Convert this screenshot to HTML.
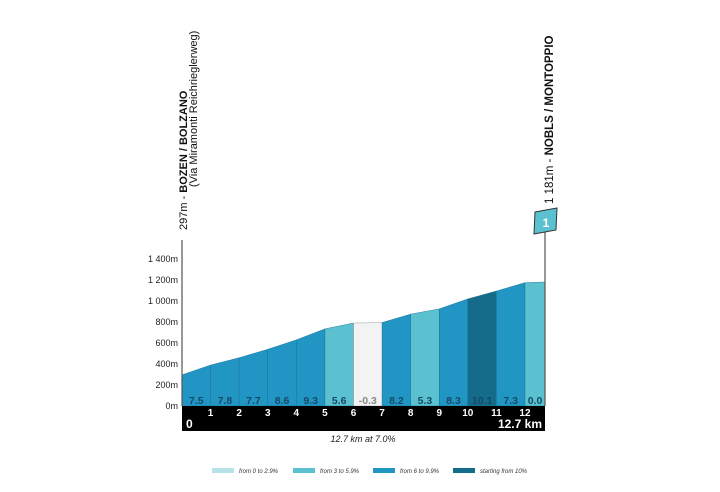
<!DOCTYPE html>
<html><head><meta charset="utf-8"><style>
html,body{margin:0;padding:0;background:#fff;}
svg{display:block;font-family:"Liberation Sans",sans-serif;}
</style></head><body>
<svg id="chart" width="720" height="492" viewBox="0 0 720 492">
<g id="segs"></g>
<g id="axis"></g>
<rect x="182" y="406" width="363" height="25" fill="#000"/>
<g id="kms"></g>
<text x="186" y="428" fill="#fff" font-size="12" font-weight="bold">0</text>
<text x="542" y="428" fill="#fff" font-size="12" font-weight="bold" text-anchor="end">12.7 km</text>
<text x="363" y="442" font-size="9" font-style="italic" fill="#222" text-anchor="middle">12.7 km at 7.0%</text>
<line x1="182" y1="240" x2="182" y2="406" stroke="#555" stroke-width="1.2"/>
<line x1="545" y1="232" x2="545" y2="406" stroke="#555" stroke-width="1.2"/>
<text transform="translate(187,230) rotate(-90)" font-size="11" fill="#111">297m - <tspan font-weight="bold">BOZEN / BOLZANO</tspan></text>
<text transform="translate(197,187) rotate(-90)" font-size="11" fill="#111">(Via Miramonti Reichrieglerweg)</text>
<text transform="translate(553,204) rotate(-90)" font-size="11.5" fill="#111">1 181m - <tspan font-weight="bold">NOBLS / MONTOPPIO</tspan></text>
<path d="M535,212 L557,208 L556,230 L534,234 Z" fill="#5bc0cf" stroke="#333" stroke-width="1"/>
<text x="546" y="227" font-size="12" font-weight="bold" fill="#fff" text-anchor="middle">1</text>
<g font-size="6" font-style="italic" fill="#333">
<rect x="212" y="468" width="22" height="5" fill="#b5e3e8"/>
<text x="239" y="473">from 0 to 2.9%</text>
<rect x="293" y="468" width="22" height="5" fill="#5bc0cf"/>
<text x="320" y="473">from 3 to 5.9%</text>
<rect x="373" y="468" width="22" height="5" fill="#2196c4"/>
<text x="400" y="473">from 6 to 9.9%</text>
<rect x="453" y="468" width="22" height="5" fill="#146b8a"/>
<text x="480" y="473">starting from 10%</text>
</g>
</svg>
<script>
const kmMarks=[0,1,2,3,4,5,6,7,8,9,10,11,12,12.7];
const elevations=[297,390,460,540,630,735,790,795,875,925,1020,1095,1175,1181];
const gradients=["7.5","7.8","7.7","8.6","9.3","5.6","-0.3","8.2","5.3","8.3","10.1","7.3","0.0"];
const yTicks=[0,200,400,600,800,1000,1200,1400];
const X0=182,X1=545,KM=12.7,Y0=406,PXM=21/200;
const xs=k=>X0+(X1-X0)*k/KM, ys=e=>Y0-e*PXM;
function col(g){g=parseFloat(g);if(g<0)return"#f3f3f3";if(g<3)return"#5bc0cf";if(g<6)return"#5bc0cf";if(g<10)return"#2196c4";return"#146b8a";}
const NS="http://www.w3.org/2000/svg";
const segs=document.getElementById('segs');
for(let i=0;i<gradients.length;i++){
 const p=document.createElementNS(NS,'path');
 const a=xs(kmMarks[i]),b=xs(kmMarks[i+1]);
 p.setAttribute('d',`M${a},${Y0} L${a},${ys(elevations[i])} L${b},${ys(elevations[i+1])} L${b},${Y0} Z`);
 p.setAttribute('fill',col(gradients[i]));
 p.setAttribute('stroke',parseFloat(gradients[i])<0?'#888':'#1a6a8a');p.setAttribute('stroke-width','0.4');
 
 
 segs.appendChild(p);
 const t=document.createElementNS(NS,'text');
 t.setAttribute('x',(a+b)/2);t.setAttribute('y',Y0-2);t.setAttribute('text-anchor','middle');
 t.setAttribute('font-size','10.5');t.setAttribute('font-weight','bold');t.setAttribute('fill',parseFloat(gradients[i])<0?'#888':'#154a66');
 t.textContent=gradients[i];
 
 
 segs.appendChild(t);
}
const ax=document.getElementById('axis');
yTicks.forEach(v=>{const t=document.createElementNS(NS,'text');
 t.setAttribute('x',X0-4);t.setAttribute('y',ys(v)+3);t.setAttribute('text-anchor','end');t.setAttribute('font-size','9');t.setAttribute('fill','#222');
 t.textContent=(v>=1000?(Math.floor(v/1000)+' '+String(v%1000).padStart(3,'0')):v)+'m';
 
 
 ax.appendChild(t);});
const kg=document.getElementById('kms');
for(let k=1;k<=12;k++){const t=document.createElementNS(NS,'text');
 t.setAttribute('x',xs(k));t.setAttribute('y',416);t.setAttribute('text-anchor','middle');t.setAttribute('font-size','10');t.setAttribute('font-weight','bold');t.setAttribute('fill','#fff');
 t.textContent=k;
 
 
 kg.appendChild(t);}
</script>
</body></html>
